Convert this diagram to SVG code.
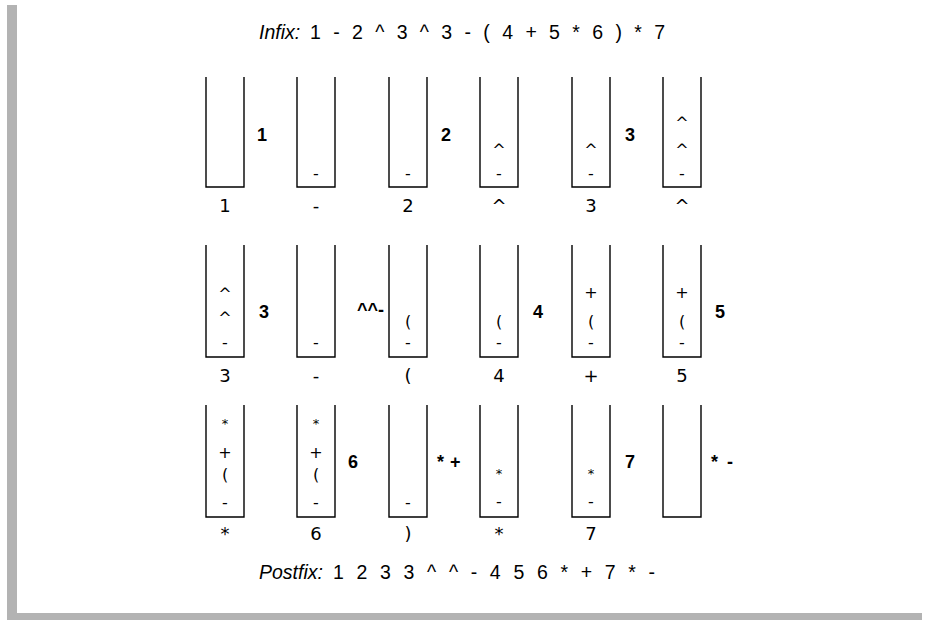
<svg xmlns="http://www.w3.org/2000/svg" width="926" height="620" viewBox="0 0 926 620">
<style>
.stk{fill:none;stroke:#000;stroke-width:1.4}
.in{font-family:"DejaVu Sans",sans-serif;font-size:16px;text-anchor:middle;fill:#000}
.ast{font-family:"DejaVu Sans",sans-serif;font-size:13px;text-anchor:middle;fill:#000}
.lbl{font-family:"DejaVu Sans",sans-serif;font-size:18px;text-anchor:middle;fill:#000}
.bd{font-family:"Liberation Sans",Arial,sans-serif;font-size:18px;font-weight:bold;fill:#000}
.ttl{font-family:"Liberation Sans",Arial,sans-serif;font-size:19.5px;fill:#000}
.it{font-style:italic}
</style>
<rect x="0" y="0" width="926" height="620" fill="#fff"/>
<g id="frame">
<rect x="7" y="5" width="10" height="615" fill="#b3b3b3"/>
<rect x="7" y="613" width="915" height="7" fill="#b3b3b3"/>
</g>
<g id="title">
<text class="ttl it" x="259" y="39">Infix:</text>
<text class="ttl" x="310" y="39" textLength="355" lengthAdjust="spacing">1 - 2 ^ 3 ^ 3 - ( 4 + 5 * 6 ) * 7</text>
</g>
<!-- Row 1 -->
<g id="s1"><path class="stk" d="M206,77V187H244V77"/><text class="lbl" x="225" y="212">1</text></g>
<g id="s2"><path class="stk" d="M297,77V187H335V77"/><text class="in" x="316" y="178.5">-</text><text class="lbl" x="316" y="212">-</text></g>
<g id="s3"><path class="stk" d="M389,77V187H427V77"/><text class="in" x="408" y="178.5">-</text><text class="lbl" x="408" y="212">2</text></g>
<g id="s4"><path class="stk" d="M480,77V187H518V77"/><text class="in" x="499" y="154.5">^</text><text class="in" x="499" y="178.5">-</text><text class="lbl" x="499" y="212">^</text></g>
<g id="s5"><path class="stk" d="M572,77V187H610V77"/><text class="in" x="591" y="154.5">^</text><text class="in" x="591" y="178.5">-</text><text class="lbl" x="591" y="212">3</text></g>
<g id="s6"><path class="stk" d="M663,77V187H701V77"/><text class="in" x="682" y="127.5">^</text><text class="in" x="682" y="154.5">^</text><text class="in" x="682" y="178.5">-</text><text class="lbl" x="682" y="212">^</text></g>
<g id="out1">
<text class="bd" x="262" y="140.5" text-anchor="middle">1</text>
<text class="bd" x="446" y="140.5" text-anchor="middle">2</text>
<text class="bd" x="630" y="140.5" text-anchor="middle">3</text>
</g>
<!-- Row 2 -->
<g id="s7"><path class="stk" d="M206,245V357H244V245"/><text class="in" x="225" y="298.5">^</text><text class="in" x="225" y="322.5">^</text><text class="in" x="225" y="347.5">-</text><text class="lbl" x="225" y="382">3</text></g>
<g id="s8"><path class="stk" d="M297,245V357H335V245"/><text class="in" x="316" y="347.5">-</text><text class="lbl" x="316" y="382">-</text></g>
<g id="s9"><path class="stk" d="M389,245V357H427V245"/><text class="in" x="408" y="327">(</text><text class="in" x="408" y="347.5">-</text><text class="lbl" x="408" y="382">(</text></g>
<g id="s10"><path class="stk" d="M480,245V357H518V245"/><text class="in" x="499" y="327">(</text><text class="in" x="499" y="347.5">-</text><text class="lbl" x="499" y="382">4</text></g>
<g id="s11"><path class="stk" d="M572,245V357H610V245"/><text class="in" x="591" y="298">+</text><text class="in" x="591" y="327">(</text><text class="in" x="591" y="347.5">-</text><text class="lbl" x="591" y="382">+</text></g>
<g id="s12"><path class="stk" d="M663,245V357H701V245"/><text class="in" x="682" y="298">+</text><text class="in" x="682" y="327">(</text><text class="in" x="682" y="347.5">-</text><text class="lbl" x="682" y="382">5</text></g>
<g id="out2">
<text class="bd" x="264" y="317.5" text-anchor="middle">3</text>
<text class="bd" x="384" y="316" text-anchor="end">^^-</text>
<text class="bd" x="538" y="318" text-anchor="middle">4</text>
<text class="bd" x="720" y="318" text-anchor="middle">5</text>
</g>
<!-- Row 3 -->
<g id="s13"><path class="stk" d="M206,405V517H244V405"/><text class="ast" x="225" y="428">*</text><text class="in" x="225" y="458">+</text><text class="in" x="225" y="480">(</text><text class="in" x="225" y="507.5">-</text><text class="lbl" x="225" y="540">*</text></g>
<g id="s14"><path class="stk" d="M297,405V517H335V405"/><text class="ast" x="316" y="428">*</text><text class="in" x="316" y="458">+</text><text class="in" x="316" y="480">(</text><text class="in" x="316" y="507.5">-</text><text class="lbl" x="316" y="540">6</text></g>
<g id="s15"><path class="stk" d="M389,405V517H427V405"/><text class="in" x="408" y="507.5">-</text><text class="lbl" x="408" y="540">)</text></g>
<g id="s16"><path class="stk" d="M480,405V517H518V405"/><text class="ast" x="499" y="478">*</text><text class="in" x="499" y="506.5">-</text><text class="lbl" x="499" y="540">*</text></g>
<g id="s17"><path class="stk" d="M572,405V517H610V405"/><text class="ast" x="591" y="478">*</text><text class="in" x="591" y="506.5">-</text><text class="lbl" x="591" y="540">7</text></g>
<g id="s18"><path class="stk" d="M663,405V517H701V405"/></g>
<g id="out3">
<text class="bd" x="353" y="468" text-anchor="middle">6</text>
<text class="bd" x="437" y="468">* <tspan dx="1">+</tspan></text>
<text class="bd" x="630" y="468" text-anchor="middle">7</text>
<text class="bd" x="711" y="468">* <tspan dx="4">-</tspan></text>
</g>
<g id="postfix">
<text class="ttl it" x="259" y="579">Postfix:</text>
<text class="ttl" x="333" y="579" textLength="322" lengthAdjust="spacing">1 2 3 3 ^ ^ - 4 5 6 * + 7 * -</text>
</g>
</svg>
